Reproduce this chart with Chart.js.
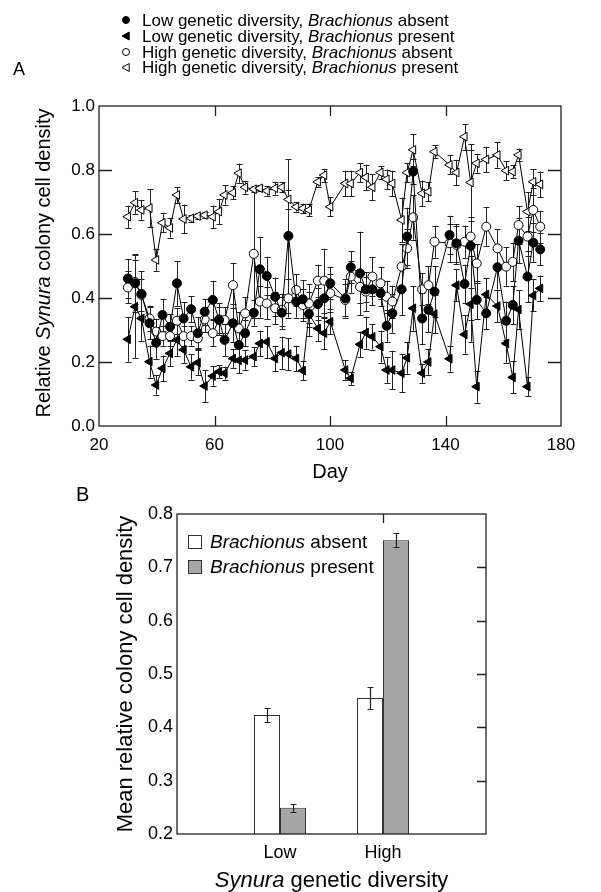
<!DOCTYPE html>
<html><head><meta charset="utf-8">
<script src="https://cdn.jsdelivr.net/npm/chart.js@4.4.1/dist/chart.umd.min.js"></script>
<style>
html,body{margin:0;padding:0;background:#fff;}
#cA{position:absolute;left:0;top:0;}
#cB{position:absolute;left:0;top:470px;}
</style></head><body>
<canvas id="cA" width="601" height="490"></canvas>
<canvas id="cB" width="601" height="422"></canvas>
<script>
// ---------- Panel A data ----------
const days = [
 30,32.5,34.7,37.5,39.8,42,44.6,47,49.3,51.9,
 54.2,56.6,59.4,61.6,63.5,66.4,68.4,70.6,73.6,75.7,
 78.1,81,83.3,85.6,88.3,90.6,92.7,95.8,98,100.1,
 105.3,107.2,110.4,112.4,114.7,117.5,119.6,121.6,124.8,126.7,
 128.8,131.9,134.1,136.2,141.4,143.8,146.6,148.7,150.8,154.1,
 158,161,163.3,165.3,168.4,170.4,172.8];
const lowAbsent = [
 0.461,0.446,0.413,0.321,0.260,0.347,0.310,0.446,0.336,0.365,
 0.290,0.357,0.394,0.331,0.269,0.321,0.253,0.290,0.354,0.490,
 0.469,0.404,0.354,0.594,0.389,0.396,0.350,0.381,0.399,0.446,
 0.399,0.496,0.477,0.427,0.427,0.415,0.313,0.352,0.427,0.592,
 0.795,0.336,0.363,0.420,0.597,0.571,0.444,0.563,0.394,0.352,
 0.496,0.329,0.378,0.579,0.467,0.573,0.552];
const lowAbsentErr = [
 0.06,0.09,0.07,0.05,0.05,0.05,0.04,0.07,0.05,0.04,
 0.05,0.04,0.06,0.04,0.05,0.06,0.05,0.04,0.04,0.10,
 0.06,0.06,0.05,0.24,0.05,0.06,0.07,0.05,0.06,0.05,
 0.06,0.05,0.13,0.04,0.05,0.04,0.05,0.06,0.08,0.09,
 0.04,0.08,0.07,0.08,0.06,0.06,0.06,0.30,0.06,0.05,
 0.07,0.06,0.06,0.07,0.08,0.06,0.05];
const lowPresent = [
 0.271,0.373,0.336,0.201,0.128,0.180,0.227,0.269,0.238,0.185,
 0.198,0.125,0.156,0.170,0.165,0.211,0.205,0.206,0.217,0.258,
 0.263,0.211,0.229,0.225,0.211,0.173,0.350,0.305,0.290,0.326,
 0.175,0.149,0.255,0.292,0.279,0.248,0.175,0.175,0.165,0.213,
 0.368,0.165,0.200,0.350,0.210,0.440,0.286,0.381,0.123,0.411,
 0.375,0.258,0.152,0.364,0.123,0.408,0.430];
const lowPresentErr = [
 0.07,0.16,0.07,0.05,0.03,0.04,0.04,0.05,0.04,0.04,
 0.04,0.05,0.03,0.02,0.02,0.03,0.04,0.03,0.03,0.04,
 0.05,0.04,0.05,0.05,0.04,0.03,0.04,0.04,0.05,0.04,
 0.03,0.02,0.04,0.05,0.04,0.05,0.04,0.06,0.06,0.05,
 0.07,0.03,0.04,0.06,0.04,0.05,0.06,0.05,0.05,0.05,
 0.05,0.06,0.05,0.06,0.03,0.05,0.04];
const highAbsent = [
 0.433,0.450,0.410,0.336,0.295,0.281,0.281,0.329,0.281,0.281,
 0.274,0.333,0.290,0.333,0.331,0.440,0.305,0.352,0.538,0.389,
 0.383,0.368,0.363,0.399,0.425,0.378,0.383,0.454,0.454,0.415,
 0.394,0.467,0.435,0.420,0.467,0.446,0.404,0.389,0.498,0.555,
 0.652,0.427,0.440,0.576,0.571,0.566,0.576,0.592,0.508,0.623,
 0.555,0.498,0.513,0.628,0.592,0.675,0.623];
const highAbsentErr = [
 0.05,0.07,0.05,0.04,0.04,0.03,0.03,0.04,0.03,0.03,
 0.03,0.04,0.04,0.05,0.04,0.07,0.05,0.05,0.20,0.05,
 0.05,0.05,0.05,0.06,0.05,0.05,0.06,0.05,0.10,0.06,
 0.05,0.05,0.05,0.06,0.06,0.05,0.05,0.05,0.07,0.06,
 0.07,0.05,0.06,0.05,0.06,0.06,0.05,0.06,0.06,0.06,
 0.06,0.06,0.06,0.06,0.06,0.07,0.05];
const highPresent = [
 0.654,0.698,0.675,0.681,0.519,0.635,0.619,0.722,0.647,0.649,
 0.656,0.659,0.654,0.670,0.722,0.729,0.790,0.746,0.740,0.743,
 0.735,0.743,0.746,0.708,0.685,0.680,0.675,0.763,0.784,0.685,
 0.758,0.758,0.792,0.777,0.746,0.792,0.771,0.758,0.644,0.792,
 0.863,0.727,0.732,0.857,0.816,0.792,0.904,0.761,0.821,0.833,
 0.847,0.798,0.795,0.847,0.670,0.763,0.755];
const highPresentErr = [
 0.035,0.035,0.03,0.06,0.035,0.03,0.03,0.025,0.045,0.01,
 0.01,0.01,0.035,0.04,0.03,0.02,0.03,0.02,0.01,0.01,
 0.015,0.02,0.015,0.03,0.015,0.015,0.02,0.015,0.02,0.03,
 0.04,0.04,0.03,0.04,0.04,0.02,0.03,0.04,0.07,0.03,
 0.05,0.04,0.03,0.02,0.03,0.04,0.04,0.12,0.03,0.04,
 0.04,0.03,0.02,0.02,0.06,0.04,0.04];
const xTicksA = [20, 60, 100, 140, 180];
const yTicksA = [0.0, 0.2, 0.4, 0.6, 0.8, 1.0];
const legendA = [
 ['Low genetic diversity, ', 'Brachionus', ' absent'],
 ['Low genetic diversity, ', 'Brachionus', ' present'],
 ['High genetic diversity, ', 'Brachionus', ' absent'],
 ['High genetic diversity, ', 'Brachionus', ' present']];

// ---------- Panel B data ----------
const diversityLevels = ['', 'Low', 'High', ''];
const meanAbsent = [null, 0.423, 0.455, null];
const meanAbsentErr = [null, 0.013, 0.020, null];
const meanPresent = [null, 0.249, 0.751, null];
const meanPresentErr = [null, 0.008, 0.0125, null];
const yTicksB = [0.2, 0.3, 0.4, 0.5, 0.6, 0.7, 0.8];
const legendB = [['Brachionus', ' absent'], ['Brachionus', ' present']];

const FAMILY = "'Liberation Sans', Arial, Helvetica, sans-serif";
Chart.defaults.font.family = FAMILY;
Chart.defaults.color = '#000';

function rich(ctx, parts, x, y, size, align) {
  const ws = parts.map(p => { ctx.font = (p[1] ? 'italic ' : '') + size + 'px ' + FAMILY; return ctx.measureText(p[0]).width; });
  const tot = ws.reduce((a, b) => a + b, 0);
  let cx = align === 'center' ? x - tot / 2 : (align === 'right' ? x - tot : x);
  ctx.textAlign = 'left';
  parts.forEach((p, i) => { ctx.font = (p[1] ? 'italic ' : '') + size + 'px ' + FAMILY; ctx.fillText(p[0], cx, y); cx += ws[i]; });
}
function marker(ctx, style, filled, x, y, r) {
  ctx.beginPath();
  if (style === 'circle') ctx.arc(x, y, r, 0, Math.PI * 2);
  else { ctx.moveTo(x - r, y); ctx.lineTo(x + r * 0.8, y - r); ctx.lineTo(x + r * 0.8, y + r); ctx.closePath(); }
  ctx.fillStyle = filled ? '#000' : '#fff'; ctx.fill();
  ctx.lineWidth = 1; ctx.strokeStyle = '#000'; ctx.stroke();
}

const seriesA = [
  {label: legendA[0].join(''), vals: lowAbsent, err: lowAbsentErr, style: 'circle', filled: true},
  {label: legendA[1].join(''), vals: lowPresent, err: lowPresentErr, style: 'triangle', filled: true},
  {label: legendA[2].join(''), vals: highAbsent, err: highAbsentErr, style: 'circle', filled: false},
  {label: legendA[3].join(''), vals: highPresent, err: highPresentErr, style: 'triangle', filled: false}
];

const errPluginA = {
  id: 'errA',
  beforeDatasetsDraw(chart) {
    const ctx = chart.ctx, xs = chart.scales.x, ys = chart.scales.y;
    ctx.save(); ctx.strokeStyle = '#222'; ctx.lineWidth = 1;
    chart.data.datasets.forEach(ds => {
      ds.data.forEach((p, i) => {
        const e = ds.errorBars[i];
        const px = Math.round(xs.getPixelForValue(p.x)) + 0.5;
        const y1 = ys.getPixelForValue(Math.min(1, p.y + e));
        const y2 = ys.getPixelForValue(Math.max(0, p.y - e));
        ctx.beginPath();
        ctx.moveTo(px, y1); ctx.lineTo(px, y2);
        ctx.moveTo(px - 3, Math.round(y1) + 0.5); ctx.lineTo(px + 3, Math.round(y1) + 0.5);
        ctx.moveTo(px - 3, Math.round(y2) + 0.5); ctx.lineTo(px + 3, Math.round(y2) + 0.5);
        ctx.stroke();
      });
    });
    ctx.restore();
  }
};

const framePluginA = {
  id: 'frameA',
  afterDraw(chart) {
    const ctx = chart.ctx, a = chart.chartArea, xs = chart.scales.x, ys = chart.scales.y;
    ctx.save();
    ctx.strokeStyle = '#222'; ctx.lineWidth = 1.3;
    ctx.strokeRect(a.left, a.top, a.right - a.left, a.bottom - a.top);
    ctx.beginPath();
    xTicksA.slice(1, -1).forEach(v => {
      const x = Math.round(xs.getPixelForValue(v)) + 0.5;
      ctx.moveTo(x, a.bottom); ctx.lineTo(x, a.bottom - 10);
      ctx.moveTo(x, a.top); ctx.lineTo(x, a.top + 10);
    });
    yTicksA.slice(1, -1).forEach(v => {
      const y = Math.round(ys.getPixelForValue(v)) + 0.5;
      ctx.moveTo(a.left, y); ctx.lineTo(a.left + 13, y);
      ctx.moveTo(a.right, y); ctx.lineTo(a.right - 13, y);
    });
    ctx.stroke();
    // axis titles
    ctx.fillStyle = '#000'; ctx.textBaseline = 'alphabetic';
    rich(ctx, [['Day', false]], (a.left + a.right) / 2, 478, 20, 'center');
    ctx.save();
    ctx.translate(50, (a.top + a.bottom) / 2 - 3);
    ctx.rotate(-Math.PI / 2);
    rich(ctx, [['Relative ', false], ['Synura', true], [' colony cell density', false]], 0, 0, 20, 'center');
    ctx.restore();
    // panel letter
    ctx.font = '18px ' + FAMILY; ctx.textAlign = 'left';
    ctx.fillText('A', 13, 75);
    // legend
    const rowsY = [20, 36, 52, 67.5];
    seriesA.forEach((s, i) => {
      marker(ctx, s.style, s.filled, 126, rowsY[i], s.style === 'circle' ? 3.5 : 4);
      ctx.fillStyle = '#000'; ctx.textBaseline = 'middle';
      const parts = legendA[i];
      rich(ctx, [[parts[0], false], [parts[1], true], [parts[2], false]], 142, rowsY[i] + 1, 17, 'left');
    });
    ctx.restore();
  }
};

new Chart(document.getElementById('cA'), {
  type: 'scatter',
  data: {
    datasets: seriesA.map(s => ({
      label: s.label,
      data: days.map((d, i) => ({x: d, y: s.vals[i]})),
      errorBars: s.err,
      showLine: true,
      borderColor: '#000',
      borderWidth: 1,
      pointStyle: s.style,
      pointRotation: s.style === 'triangle' ? 270 : 0,
      pointRadius: s.style === 'circle' ? 4.5 : 5,
      pointBackgroundColor: s.filled ? '#000' : '#fff',
      pointBorderColor: '#000',
      pointBorderWidth: 1,
      tension: 0
    }))
  },
  options: {
    responsive: false, animation: false, devicePixelRatio: 1,
    layout: {padding: {top: 106, right: 40, left: 0, bottom: 0}},
    plugins: {legend: {display: false}, tooltip: {enabled: false}},
    scales: {
      x: {
        type: 'linear', min: 20, max: 180,
        afterBuildTicks(s) { s.ticks = xTicksA.map(v => ({value: v})); },
        afterFit(s) { s.height = 64; },
        ticks: {font: {size: 17}, color: '#000', padding: 9, maxRotation: 0, autoSkip: false},
        grid: {display: false, drawTicks: false},
        border: {display: false}
      },
      y: {
        min: 0, max: 1,
        afterBuildTicks(s) { s.ticks = yTicksA.map(v => ({value: v})); },
        afterFit(s) { s.width = 99; },
        ticks: {font: {size: 17}, color: '#000', padding: 4, callback: v => v.toFixed(1)},
        grid: {display: false, drawTicks: false},
        border: {display: false}
      }
    }
  },
  plugins: [errPluginA, framePluginA]
});

// ---------- Panel B ----------
const pluginB = {
  id: 'extrasB',
  afterDatasetsDraw(chart) {
    const ctx = chart.ctx, ys = chart.scales.y;
    ctx.save(); ctx.strokeStyle = '#222'; ctx.lineWidth = 1.2;
    chart.data.datasets.forEach((ds, di) => {
      const meta = chart.getDatasetMeta(di);
      ds.data.forEach((v, i) => {
        if (v === null) return;
        const e = ds.errorBars[i];
        const x = Math.round(meta.data[i].x) + 0.5;
        const y1 = Math.round(ys.getPixelForValue(v + e)) + 0.5;
        const y2 = Math.round(ys.getPixelForValue(v - e)) + 0.5;
        ctx.beginPath();
        ctx.moveTo(x, y1); ctx.lineTo(x, y2);
        ctx.moveTo(x - 3, y1); ctx.lineTo(x + 3, y1);
        ctx.moveTo(x - 3, y2); ctx.lineTo(x + 3, y2);
        ctx.stroke();
      });
    });
    ctx.restore();
  },
  afterDraw(chart) {
    const ctx = chart.ctx, a = chart.chartArea, ys = chart.scales.y, xs = chart.scales.x;
    ctx.save();
    ctx.strokeStyle = '#222'; ctx.lineWidth = 1.3;
    ctx.strokeRect(a.left, a.top, a.right - a.left, a.bottom - a.top);
    ctx.beginPath();
    yTicksB.slice(1, -1).forEach(v => {
      const y = Math.round(ys.getPixelForValue(v)) + 0.5;
      ctx.moveTo(a.right, y); ctx.lineTo(a.right - 9, y);
    });
    const hx = Math.round(xs.getPixelForValue(2)) + 0.5;
    ctx.moveTo(hx, a.top); ctx.lineTo(hx, a.top + 9);
    ctx.stroke();
    // legend
    const rows = [72, 97];
    const fills = ['#ffffff', '#a6a6a6'];
    rows.forEach((y, i) => {
      ctx.fillStyle = fills[i]; ctx.fillRect(188.5, y - 6.5, 13, 13);
      ctx.lineWidth = 1; ctx.strokeStyle = '#333'; ctx.strokeRect(188.5, y - 6.5, 13, 13);
      ctx.fillStyle = '#000'; ctx.textBaseline = 'middle';
      rich(ctx, [[legendB[i][0], true], [legendB[i][1], false]], 210, y + 1, 19, 'left');
    });
    // titles
    ctx.textBaseline = 'alphabetic';
    rich(ctx, [['Synura', true], [' genetic diversity', false]], (a.left + a.right) / 2, 417, 22, 'center');
    ctx.save();
    ctx.translate(132, (a.top + a.bottom) / 2);
    ctx.rotate(-Math.PI / 2);
    rich(ctx, [['Mean relative colony cell density', false]], 0, 0, 22, 'center');
    ctx.restore();
    ctx.font = '20px ' + FAMILY; ctx.textAlign = 'left';
    ctx.fillText('B', 76, 31);
    ctx.restore();
  }
};

new Chart(document.getElementById('cB'), {
  type: 'bar',
  data: {
    labels: diversityLevels,
    datasets: [
      {label: 'Brachionus absent', data: meanAbsent, errorBars: meanAbsentErr, backgroundColor: '#ffffff', borderColor: '#333', borderWidth: 1},
      {label: 'Brachionus present', data: meanPresent, errorBars: meanPresentErr, backgroundColor: '#a6a6a6', borderColor: '#333', borderWidth: 1}
    ]
  },
  options: {
    responsive: false, animation: false, devicePixelRatio: 1,
    layout: {padding: {top: 44, right: 115, left: 0, bottom: 0}},
    plugins: {legend: {display: false}, tooltip: {enabled: false}},
    datasets: {bar: {categoryPercentage: 0.505, barPercentage: 1.0}},
    scales: {
      x: {
        offset: false,
        afterFit(s) { s.height = 58; },
        ticks: {font: {size: 18}, color: '#000', padding: 8, maxRotation: 0, autoSkip: false},
        grid: {display: false, drawTicks: false, offset: false},
        border: {display: false}
      },
      y: {
        min: 0.2, max: 0.8,
        afterBuildTicks(s) { s.ticks = yTicksB.map(v => ({value: v})); },
        afterFit(s) { s.width = 177; },
        ticks: {font: {size: 18}, color: '#000', padding: 4, callback: v => v.toFixed(1)},
        grid: {display: false, drawTicks: false},
        border: {display: false}
      }
    }
  },
  plugins: [pluginB]
});
</script>
</body></html>
